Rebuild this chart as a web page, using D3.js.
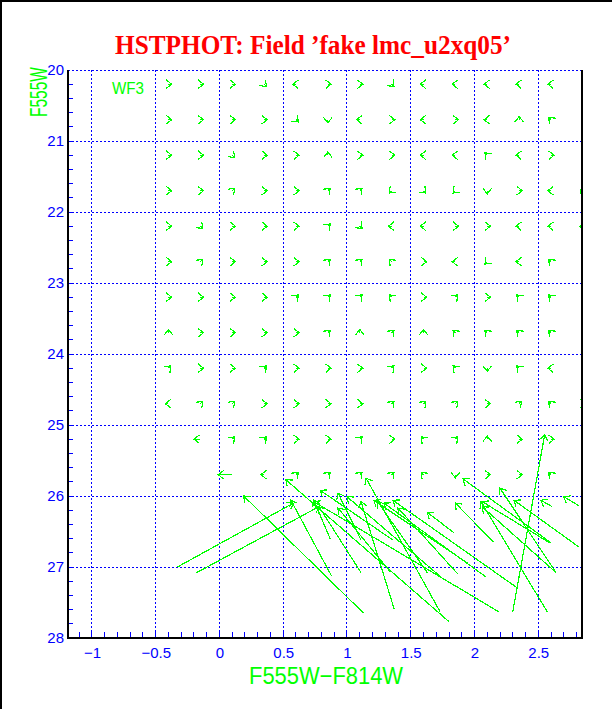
<!DOCTYPE html>
<html>
<head>
<meta charset="utf-8">
<script src="https://cdn.jsdelivr.net/npm/d3@7"></script>
<style>
  body { margin: 0; background: #fff; }
</style>
</head>
<body>
<svg id="chart" width="612" height="709"></svg>
<script>
const colorTicks = [-1, -0.5, 0, 0.5, 1, 1.5, 2, 2.5];
const magTicks = [20, 21, 22, 23, 24, 25, 26, 27, 28];

// input grid of the fake stars
const gridColors = [-0.4, -0.15, 0.1, 0.35, 0.6, 0.85, 1.1, 1.35, 1.6, 1.85, 2.1, 2.35, 2.6, 2.85];
const gridMags = [20.2, 20.7, 21.2, 21.7, 22.2, 22.7, 23.2, 23.7, 24.2, 24.7, 25.2, 25.7];

// which way each small arrow points (one string per magnitude row, '-' = none)
const gridDirs = [
  'E E E SE W E E SE W W W W W -',
  'E E E E SE S W E W E W N NW -',
  'E E SE E E N E E W W NW W E -',
  'E E NE E E NE NE SW SE SW S E W SW',
  'E SE E E E NE SE W W E E W W W',
  'E NE E E E NE NE NW E W SW W NW -',
  'E E E E NE NE NE NW E NE E NW NW -',
  'N E E E E NE N NE N NW NW NW NW -',
  'NE E E NE E E E NE E NW S NW W -',
  'W NE NE E E E E NE NE NE E NE NW E',
  '- W2 NE NE E E NE E NW NE N E E -',
  '- - W3 W NE NE NE NE NW S E E NW -',
];

// small shifts (colour, magnitude) for each direction code
const dirShift = {
  E: [0.025, 0], W: [-0.025, 0], N: [0, -0.045], S: [0, 0.045],
  NE: [0.018, -0.032], NW: [-0.018, -0.032], SE: [0.018, 0.032], SW: [-0.018, 0.032],
  W2: [-0.05, 0], W3: [-0.11, 0],
};

// faint stars recovered much brighter: [input colour, input mag, output colour, output mag]
const blendArrows = [
  [-0.33, 27.00, 0.58, 26.10],
  [-0.18, 27.08, 0.78, 26.15],
  [1.13, 27.65, 0.19, 26.00],
  [1.80, 27.77, 0.52, 25.77],
  [0.88, 27.13, 0.56, 26.06],
  [0.87, 26.61, 0.74, 26.06],
  [1.11, 27.08, 0.78, 26.15],
  [1.11, 26.62, 0.93, 25.96],
  [1.37, 27.59, 1.11, 26.08],
  [1.36, 26.62, 0.79, 25.92],
  [1.34, 27.07, 0.93, 26.17],
  [1.63, 27.08, 1.24, 26.08],
  [1.73, 27.13, 1.00, 26.01],
  [1.73, 27.63, 1.15, 25.75],
  [1.84, 26.52, 1.63, 26.23],
  [1.87, 27.10, 1.40, 26.17],
  [2.19, 27.63, 0.74, 26.08],
  [2.09, 27.14, 1.29, 26.10],
  [2.34, 27.30, 1.36, 26.06],
  [1.95, 26.95, 1.21, 26.06],
  [2.15, 26.65, 1.85, 26.10],
  [2.59, 26.66, 2.06, 26.08],
  [2.64, 27.08, 2.20, 25.89],
  [2.57, 27.63, 2.05, 26.08],
  [2.82, 26.72, 2.31, 26.06],
  [2.82, 26.14, 2.70, 26.01],
  [2.61, 26.15, 2.52, 26.06],
  [2.30, 27.63, 2.55, 25.14],
  [2.60, 26.66, 1.91, 25.76],
  [2.64, 27.08, 2.06, 26.15],
];

const blue = '#0000ff';
const green = '#00ff00';
const plotLeft = 68, plotRight = 582, plotTop = 70, plotBottom = 638;

const x = d3.scaleLinear().domain([-1.188, 2.843]).range([plotLeft, plotRight]);
const y = d3.scaleLinear().domain([20, 28]).range([plotTop, plotBottom]);

const svg = d3.select('#chart');

// outer frame edges
svg.append('path')
  .attr('d', `M1,709V1H612`)
  .attr('fill', 'none')
  .attr('stroke', '#000')
  .attr('stroke-width', 2);

svg.append('text')
  .attr('x', 313)
  .attr('y', 54)
  .attr('text-anchor', 'middle')
  .attr('font-family', 'Liberation Serif')
  .attr('font-weight', 'bold')
  .attr('font-size', 28)
  .attr('textLength', 396)
  .attr('lengthAdjust', 'spacingAndGlyphs')
  .attr('fill', '#ff0000')
  .text('HSTPHOT: Field ’fake lmc_u2xq05’');

svg.append('defs').append('clipPath')
  .attr('id', 'plot-clip')
  .append('rect')
  .attr('x', plotLeft).attr('y', plotTop)
  .attr('width', plotRight - plotLeft).attr('height', plotBottom - plotTop);

// dotted grid
const grid = svg.append('g')
  .attr('stroke', blue)
  .attr('stroke-width', 1)
  .attr('stroke-dasharray', '2,2')
  .attr('shape-rendering', 'crispEdges');

grid.selectAll('.vline')
  .data(colorTicks)
  .join('line')
  .attr('x1', d => x(d)).attr('x2', d => x(d))
  .attr('y1', plotTop).attr('y2', plotBottom);

grid.selectAll('.hline')
  .data(magTicks.filter(d => d < 28))
  .join('line')
  .attr('x1', plotLeft).attr('x2', plotRight)
  .attr('y1', d => y(d)).attr('y2', d => y(d));

// minor ticks
const minor = svg.append('g')
  .attr('stroke', blue)
  .attr('stroke-width', 1)
  .attr('shape-rendering', 'crispEdges');

minor.selectAll('.xt')
  .data(d3.range(-11, 29).map(i => i / 10))
  .join('line')
  .attr('x1', d => x(d)).attr('x2', d => x(d))
  .attr('y1', plotBottom).attr('y2', plotBottom - 6);

minor.selectAll('.yt')
  .data(d3.range(101, 140).map(i => i / 5))
  .join('line')
  .attr('x1', plotLeft).attr('x2', plotLeft + 5)
  .attr('y1', d => y(d)).attr('y2', d => y(d));

// arrows
function arrowPath(c0, m0, c1, m1) {
  const x0 = x(c0), y0 = y(m0), x1 = x(c1), y1 = y(m1);
  const a = Math.atan2(y1 - y0, x1 - x0);
  const len = 7, half = 38 * Math.PI / 180;
  const b1 = [x1 + len * Math.cos(a + Math.PI - half), y1 + len * Math.sin(a + Math.PI - half)];
  const b2 = [x1 + len * Math.cos(a + Math.PI + half), y1 + len * Math.sin(a + Math.PI + half)];
  return `M${x0},${y0}L${x1},${y1}M${b1[0]},${b1[1]}L${x1},${y1}L${b2[0]},${b2[1]}`;
}

const smallArrows = [];
gridDirs.forEach((row, i) => {
  row.split(' ').forEach((code, j) => {
    if (code === '-') return;
    const [dc, dm] = dirShift[code];
    const c = gridColors[j], m = gridMags[i];
    smallArrows.push([c, m, c + dc, m + dm]);
  });
});

const arrows = svg.append('g')
  .attr('clip-path', 'url(#plot-clip)')
  .attr('fill', 'none')
  .attr('stroke', green)
  .attr('stroke-width', 1.2)
  .attr('shape-rendering', 'crispEdges');

arrows.selectAll('.small')
  .data(smallArrows)
  .join('path')
  .attr('d', d => arrowPath(...d));

arrows.selectAll('.blend')
  .data(blendArrows)
  .join('path')
  .attr('d', d => arrowPath(...d));

// axis frame
svg.append('path')
  .attr('d', `M${plotLeft},${plotTop}V${plotBottom}H${plotRight}V${plotTop}`)
  .attr('fill', 'none')
  .attr('stroke', '#000')
  .attr('stroke-width', 2);

const xAxis = svg.append('g')
  .attr('transform', `translate(0,${plotBottom})`)
  .call(d3.axisBottom(x).tickValues(colorTicks).tickSize(0).tickPadding(9).tickFormat(d3.format('')));
const yAxis = svg.append('g')
  .attr('transform', `translate(${plotLeft},0)`)
  .call(d3.axisLeft(y).tickValues(magTicks).tickSize(0).tickPadding(4));

[xAxis, yAxis].forEach(g => {
  g.select('.domain').remove();
  g.selectAll('text')
    .attr('fill', blue)
    .attr('font-family', 'Liberation Sans')
    .attr('font-size', 15);
});

svg.append('text')
  .attr('x', 326)
  .attr('y', 684)
  .attr('text-anchor', 'middle')
  .attr('font-family', 'Liberation Sans')
  .attr('font-size', 24)
  .attr('textLength', 154)
  .attr('lengthAdjust', 'spacingAndGlyphs')
  .attr('fill', green)
  .text('F555W−F814W');

svg.append('text')
  .attr('transform', 'translate(47,92) rotate(-90)')
  .attr('text-anchor', 'middle')
  .attr('font-family', 'Liberation Sans')
  .attr('font-size', 24)
  .attr('textLength', 50)
  .attr('lengthAdjust', 'spacingAndGlyphs')
  .attr('fill', green)
  .text('F555W');

svg.append('text')
  .attr('x', 112)
  .attr('y', 94)
  .attr('font-family', 'Liberation Sans')
  .attr('font-size', 16)
  .attr('textLength', 32)
  .attr('lengthAdjust', 'spacingAndGlyphs')
  .attr('fill', green)
  .text('WF3');
</script>
</body>
</html>
